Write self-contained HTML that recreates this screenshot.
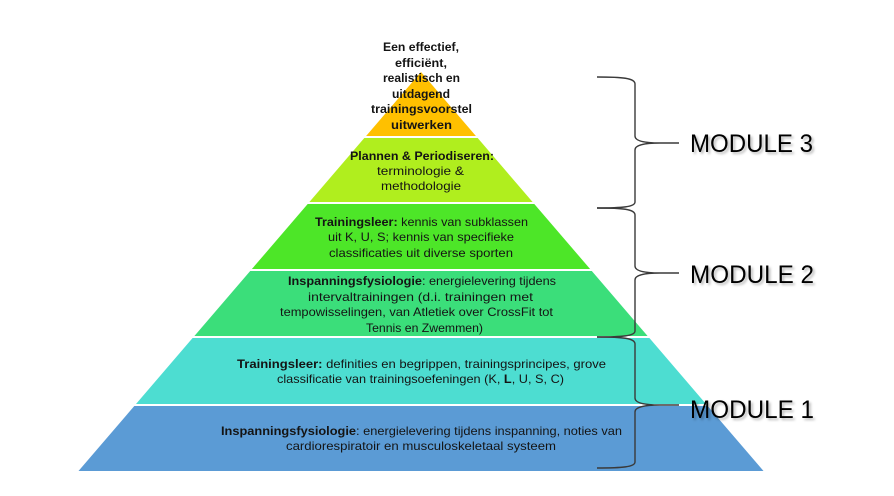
<!DOCTYPE html>
<html>
<head>
<meta charset="utf-8">
<style>
  html,body{margin:0;padding:0;background:#fff;}
  svg{display:block;}
  text{font-family:"Liberation Sans",Arial,sans-serif;fill:#141414;}
  .t{font-size:12px;}
  .b{font-weight:bold;}
  .m{font-size:25px;fill:#000;}
  .ms{font-size:25px;fill:rgba(0,0,0,0.28);}
</style>
</head>
<body>
<svg width="894" height="496" viewBox="0 0 894 496" xmlns="http://www.w3.org/2000/svg">
  <defs>
    <filter id="sh" x="-10%" y="-30%" width="120%" height="160%">
      <feGaussianBlur stdDeviation="1.2"/>
    </filter>
  </defs>
  <rect width="894" height="496" fill="#fff"/>

  <!-- Pyramid layers -->
  <polygon points="421,72 475.9,136 366.1,136" fill="#FFC000"/>
  <polygon points="364.3,138 477.7,138 532.6,202 309.4,202" fill="#B0EE1E"/>
  <polygon points="307.7,204 534.3,204 590.1,269 251.9,269" fill="#4DE628"/>
  <polygon points="250.2,271 591.8,271 647.6,336 194.4,336" fill="#3BDE7A"/>
  <polygon points="192.6,338 649.4,338 706,404 136,404" fill="#4DDDD1"/>
  <polygon points="134.3,406 707.7,406 763.5,471 78.5,471" fill="#5B9BD5"/>

  <!-- Top text -->
  <text class="t b" x="383" y="51" textLength="76" lengthAdjust="spacingAndGlyphs">Een effectief,</text>
  <text class="t b" x="395" y="67" textLength="52" lengthAdjust="spacingAndGlyphs">efficiënt,</text>
  <text class="t b" x="383" y="82" textLength="77" lengthAdjust="spacingAndGlyphs">realistisch en</text>
  <text class="t b" x="392" y="98" textLength="58" lengthAdjust="spacingAndGlyphs">uitdagend</text>
  <text class="t b" x="371" y="113" textLength="101" lengthAdjust="spacingAndGlyphs">trainingsvoorstel</text>
  <text class="t b" x="391" y="129" textLength="61" lengthAdjust="spacingAndGlyphs">uitwerken</text>

  <!-- Plannen -->
  <text class="t b" x="350" y="160" textLength="144" lengthAdjust="spacingAndGlyphs">Plannen &amp; Periodiseren:</text>
  <text class="t" x="377" y="175" textLength="87" lengthAdjust="spacingAndGlyphs">terminologie &amp;</text>
  <text class="t" x="381" y="190" textLength="80" lengthAdjust="spacingAndGlyphs">methodologie</text>

  <!-- Trainingsleer (green) -->
  <text class="t" x="315" y="226" textLength="213" lengthAdjust="spacingAndGlyphs"><tspan class="b">Trainingsleer:</tspan> kennis van subklassen</text>
  <text class="t" x="328" y="241" textLength="186" lengthAdjust="spacingAndGlyphs">uit K, U, S; kennis van specifieke</text>
  <text class="t" x="329" y="257" textLength="184" lengthAdjust="spacingAndGlyphs">classificaties uit diverse sporten</text>

  <!-- Inspanningsfysiologie (green2) -->
  <text class="t" x="288" y="285" textLength="268" lengthAdjust="spacingAndGlyphs"><tspan class="b">Inspanningsfysiologie</tspan>: energielevering tijdens</text>
  <text class="t" x="308" y="301" textLength="225" lengthAdjust="spacingAndGlyphs">intervaltrainingen (d.i. trainingen met</text>
  <text class="t" x="280" y="316" textLength="273" lengthAdjust="spacingAndGlyphs">tempowisselingen, van Atletiek over CrossFit tot</text>
  <text class="t" x="366" y="332" textLength="117" lengthAdjust="spacingAndGlyphs">Tennis en Zwemmen)</text>

  <!-- Trainingsleer (teal) -->
  <text class="t" x="237" y="368" textLength="369" lengthAdjust="spacingAndGlyphs"><tspan class="b">Trainingsleer:</tspan> definities en begrippen, trainingsprincipes, grove</text>
  <text class="t" x="277" y="383" textLength="287" lengthAdjust="spacingAndGlyphs">classificatie van trainingsoefeningen (K, <tspan class="b">L</tspan>, U, S, C)</text>

  <!-- Inspanningsfysiologie (blue) -->
  <text class="t" x="221" y="435" textLength="401" lengthAdjust="spacingAndGlyphs"><tspan class="b">Inspanningsfysiologie</tspan>: energielevering tijdens inspanning, noties van</text>
  <text class="t" x="286" y="450" textLength="270" lengthAdjust="spacingAndGlyphs">cardiorespiratoir en musculoskeletaal systeem</text>

  <!-- Braces -->
  <g fill="none" stroke="#3a3a3a" stroke-width="1.4">
    <path d="M597,77 C622,77 635,78 635,84 L635,136 C635,142 648,143 660,143 L679,143 M660,143 C648,143 635,144 635,150 L635,202 C635,207 622,208 597,208"/>
    <path d="M597,208 C622,208 635,209 635,215 L635,266 C635,272 648,273 660,273 L679,273 M660,273 C648,273 635,274 635,280 L635,331 C635,336 622,337 597,337"/>
    <path d="M597,337 C622,337 635,338 635,344 L635,398 C635,404 648,405 660,405 L679,405 M660,405 C648,405 635,406 635,412 L635,462 C635,467 622,468 597,468"/>
  </g>

  <!-- Module labels with shadow -->
  <g filter="url(#sh)">
    <text class="ms" x="692" y="154" textLength="123" lengthAdjust="spacingAndGlyphs">MODULE 3</text>
    <text class="ms" x="692" y="285" textLength="124" lengthAdjust="spacingAndGlyphs">MODULE 2</text>
    <text class="ms" x="692" y="420" textLength="124" lengthAdjust="spacingAndGlyphs">MODULE 1</text>
  </g>
  <text class="m" x="690" y="152" textLength="123" lengthAdjust="spacingAndGlyphs">MODULE 3</text>
  <text class="m" x="690" y="283" textLength="124" lengthAdjust="spacingAndGlyphs">MODULE 2</text>
  <text class="m" x="690" y="418" textLength="124" lengthAdjust="spacingAndGlyphs">MODULE 1</text>
</svg>
</body>
</html>
